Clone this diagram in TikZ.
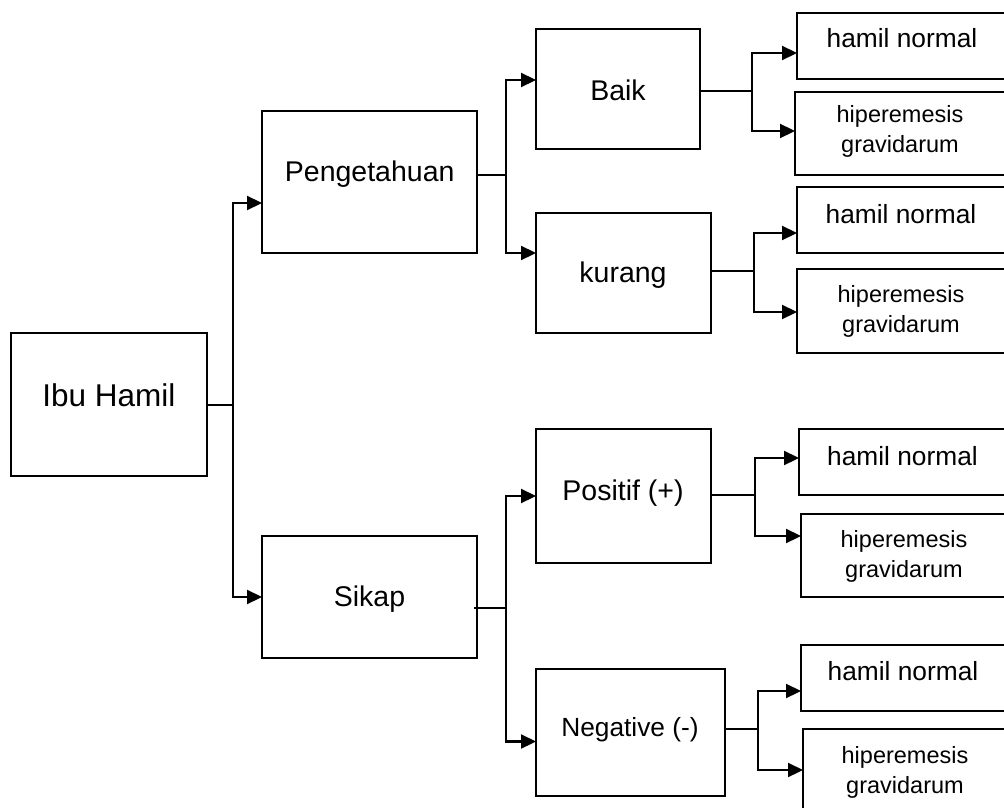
\documentclass[tikz,border=0pt]{standalone}
\usepackage{fontspec}
\setmainfont{Liberation Sans}
\usetikzlibrary{arrows.meta}
\tikzset{
  box/.style={draw, line width=2pt, rectangle, inner sep=0pt, outer sep=0pt},
  lbl/.style={inner sep=0pt, anchor=base},
  conn/.style={line width=2pt},
  arr/.style={line width=2.2pt, -{Triangle[length=15pt,width=14pt]}},
  fA/.style={font=\fontsize{31.5}{36}\selectfont},
  fB/.style={font=\fontsize{28.5}{33}\selectfont},
  fC/.style={font=\fontsize{26.3}{30}\selectfont},
  fD/.style={font=\fontsize{23.5}{30}\selectfont, align=center},
}
\begin{document}
\begin{tikzpicture}[x=1pt,y=-1pt]
\useasboundingbox (0,0) rectangle (1004,808);
\clip (0,0) rectangle (1004,808);
% boxes
\node[box, minimum width=196pt, minimum height=143pt] (ibu) at (109,404.5) {};
\node[box, minimum width=215pt, minimum height=142pt] (peng) at (369.5,182) {};
\node[box, minimum width=164pt, minimum height=120pt] (baik) at (618,89) {};
\node[box, minimum width=175pt, minimum height=120pt] (kurang) at (623.5,273) {};
\node[box, minimum width=215pt, minimum height=122pt] (sikap) at (369.5,597) {};
\node[box, minimum width=175pt, minimum height=134pt] (pos) at (623.5,496) {};
\node[box, minimum width=189pt, minimum height=127pt] (neg) at (630.5,732.5) {};
\node[box, minimum width=215pt, minimum height=66pt] (hn1) at (904.5,46) {};
\node[box, minimum width=217pt, minimum height=83pt] (hg1) at (903.5,133.5) {};
\node[box, minimum width=215pt, minimum height=66pt] (hn2) at (904.5,220) {};
\node[box, minimum width=215pt, minimum height=84pt] (hg2) at (904.5,311) {};
\node[box, minimum width=213pt, minimum height=66pt] (hn3) at (905.5,462) {};
\node[box, minimum width=211pt, minimum height=83pt] (hg3) at (906.5,555.5) {};
\node[box, minimum width=211pt, minimum height=66pt] (hn4) at (906.5,678) {};
\node[box, minimum width=209pt, minimum height=83pt] (hg4) at (907.5,770.5) {};
% labels
\node[lbl, fA] (tibu) at (109,406) {Ibu Hamil};
\node[lbl, fB] (tpeng) at (369.7,181.7) {Pengetahuan};
\node[lbl, fB] (tbaik) at (618,100) {Baik};
\node[lbl, fB] (tkurang) at (623,282.7) {kurang};
\node[lbl, fB] (tsikap) at (369.5,606) {Sikap};
\node[lbl, fB] (tpos) at (623,500.7) {Positif (+)};
\node[lbl, fC] (tneg) at (630,736.7) {Negative (-)};
\node[lbl, fC] (thn1) at (902,48) {hamil normal};
\node[lbl, fC] (thn2) at (901,223) {hamil normal};
\node[lbl, fC] (thn3) at (902.5,465) {hamil normal};
\node[lbl, fC] (thn4) at (903,680.7) {hamil normal};
\node[lbl, fD] (thg1) at (900,152.5) {hiperemesis\\gravidarum};
\node[lbl, fD] (thg2) at (901,332) {hiperemesis\\gravidarum};
\node[lbl, fD] (thg3) at (904,577) {hiperemesis\\gravidarum};
\node[lbl, fD] (thg4) at (905,793) {hiperemesis\\gravidarum};
% junctions
\coordinate (j0) at (233,404.5);
\coordinate (j1) at (506,175);
\coordinate (j2) at (506,608);
\coordinate (j3) at (752,91);
\coordinate (j4) at (754,271);
\coordinate (j5) at (755,495);
\coordinate (j6) at (758,729);
% connectors
\draw[conn] (ibu.east) -- (j0);
\draw[arr] (j0) |- ([yshift=-21pt]peng.west);
\draw[arr] (j0) |- (sikap.west);
\draw[conn] ([yshift=7pt]peng.east) -- (j1);
\draw[arr] (j1) |- ([yshift=9pt]baik.west);
\draw[arr] (j1) |- ([yshift=20pt]kurang.west);
\draw[conn] ([yshift=-11pt,xshift=-3pt]sikap.east) -- (j2);
\draw[arr] (j2) |- (pos.west);
\draw[arr] (j2) |- ([yshift=-9pt]neg.west);
\draw[conn] ([yshift=-2pt]baik.east) -- (j3);
\draw[arr] (j3) |- ([yshift=-7pt]hn1.west);
\draw[arr] (j3) |- ([yshift=2.5pt]hg1.west);
\draw[conn] ([yshift=2pt]kurang.east) -- (j4);
\draw[arr] (j4) |- ([yshift=-13pt]hn2.west);
\draw[arr] (j4) |- ([yshift=-1pt]hg2.west);
\draw[conn] ([yshift=1pt]pos.east) -- (j5);
\draw[arr] (j5) |- ([yshift=4pt]hn3.west);
\draw[arr] (j5) |- ([yshift=19.5pt]hg3.west);
\draw[conn] ([yshift=3.5pt]neg.east) -- (j6);
\draw[arr] (j6) |- ([yshift=-13pt]hn4.west);
\draw[arr] (j6) |- ([yshift=0.5pt]hg4.west);
\end{tikzpicture}
\end{document}
